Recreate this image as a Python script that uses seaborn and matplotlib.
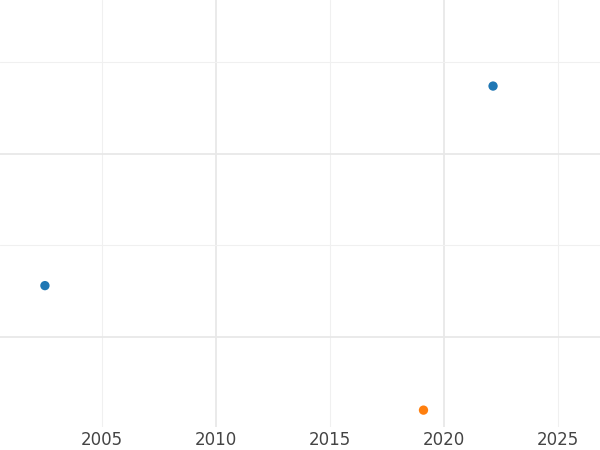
import matplotlib
matplotlib.use("Agg")
import matplotlib.pyplot as plt
import seaborn as sns
import pandas as pd
from matplotlib.ticker import MultipleLocator

# values
years = [2002.5, 2022.15, 2019.1]
values = [1.28, 2.37, 0.60]
groups = ["a", "a", "b"]

df = pd.DataFrame({"year": years, "value": values, "group": groups})

sns.set_style("white")
fig = plt.figure(figsize=(6, 4.5), dpi=100)
ax = fig.add_axes([0, 0.052, 1, 0.948])

sns.scatterplot(data=df, x="year", y="value", hue="group",
                palette=["#1f77b4", "#ff7f0e"], s=45, edgecolor="none",
                legend=False, ax=ax, zorder=3)

ax.set_xlim(2000.53, 2026.84)
ax.set_ylim(0.51, 2.84)
ax.yaxis.set_major_locator(MultipleLocator(1))
ax.yaxis.set_minor_locator(MultipleLocator(0.5))
ax.yaxis.grid(True, which="major", color="#e8e8e8", linewidth=1.3)
ax.yaxis.grid(True, which="minor", color="#f0f0f0", linewidth=0.8)
ax.set_xticks([2005, 2010, 2015, 2020, 2025])
ax.set_xticklabels(["2005", "2010", "2015", "2020", "2025"])
ax.xaxis.grid(False)
for x in [2005, 2015, 2025]:
    ax.axvline(x, color="#f0f0f0", linewidth=0.8, zorder=0)
for x in [2010, 2020]:
    ax.axvline(x, color="#e8e8e8", linewidth=1.3, zorder=0)
ax.set_yticklabels([])
ax.tick_params(axis="both", which="both", length=0, labelsize=12, labelcolor="#444444")
ax.set_xlabel("")
ax.set_ylabel("")
for s in ax.spines.values():
    s.set_visible(False)

fig.savefig("out.png", dpi=100)
